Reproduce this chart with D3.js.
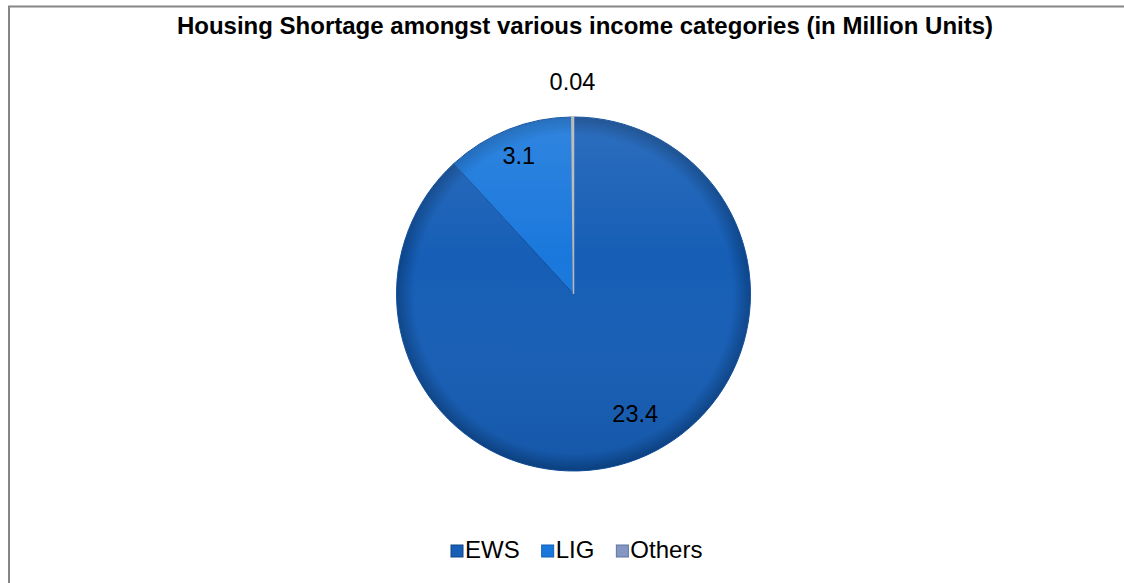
<!DOCTYPE html>
<html>
<head>
<meta charset="utf-8">
<script src="https://cdn.jsdelivr.net/npm/d3@7"></script>
<style>
	body { margin: 0; background: #fff; }
	text { font-family: Arial, "Liberation Sans", sans-serif; fill: #000; }
</style>
</head>
<body>
<script>
const categories = ['EWS', 'LIG', 'Others'];
const values = [23.4, 3.1, 0.04];
const labels = ['23.4', '3.1', '0.04'];
const colors = ['#165eb6', '#1a78dc', '#8397c2'];
const edgeColors = ['#0c4488', '#1160b4', '#5f74a0'];
const labelRadius = [0.76, 0.84, 1.2];
const labelTurn = [-0.105, 0, 0]; // radians, nudges the label round the slice

const width = 1124;
const height = 583;
const cx = 573.5, cy = 294, radius = 177;

const svg = d3.select('body').append('svg')
	.attr('width', width)
	.attr('height', height);

// chart frame
svg.append('rect')
	.attr('x', 9)
	.attr('y', 6.5)
	.attr('width', 1130)
	.attr('height', 600)
	.attr('fill', 'none')
	.attr('stroke', '#868686')
	.attr('stroke-width', 2);

svg.append('text')
	.attr('x', 585)
	.attr('y', 34)
	.attr('text-anchor', 'middle')
	.style('font-size', '24px')
	.style('font-weight', 'bold')
	.text('Housing Shortage amongst various income categories (in Million Units)');

const defs = svg.append('defs');
categories.forEach(function(c, i) {
	const g = defs.append('radialGradient')
		.attr('id', 'grad' + i)
		.attr('gradientUnits', 'userSpaceOnUse')
		.attr('cx', 0).attr('cy', 0).attr('r', radius);
	g.append('stop').attr('offset', '0%').attr('stop-color', colors[i]);
	g.append('stop').attr('offset', '90%').attr('stop-color', colors[i]);
	g.append('stop').attr('offset', '100%').attr('stop-color', edgeColors[i]);
});
// soft top light for the bevel look
const shine = defs.append('linearGradient')
	.attr('id', 'shine')
	.attr('x1', 0).attr('y1', 0).attr('x2', 0).attr('y2', 1);
shine.append('stop').attr('offset', '0%').attr('stop-color', '#ffffff').attr('stop-opacity', 0.1);
shine.append('stop').attr('offset', '40%').attr('stop-color', '#ffffff').attr('stop-opacity', 0);
shine.append('stop').attr('offset', '100%').attr('stop-color', '#000000').attr('stop-opacity', 0.08);

const pie = d3.pie().sort(null).value(function(d) { return d; });
const arcs = pie(values);
const arc = d3.arc().innerRadius(0).outerRadius(radius);

const g = svg.append('g')
	.attr('transform', 'translate(' + cx + ',' + cy + ')');

g.selectAll('path.slice')
	.data(arcs)
	.enter().append('path')
	.attr('class', 'slice')
	.attr('d', arc)
	.attr('fill', function(d, i) { return 'url(#grad' + i + ')'; })
	.attr('stroke', function(d, i) { return i === 2 ? '#b8b8b8' : '#104f9e'; })
	.attr('stroke-width', function(d, i) { return i === 2 ? 1.5 : 1; });

g.append('circle')
	.attr('r', radius)
	.attr('fill', 'url(#shine)')
	.attr('pointer-events', 'none');

// slice labels
g.selectAll('text.lbl')
	.data(arcs)
	.enter().append('text')
	.attr('class', 'lbl')
	.attr('transform', function(d, i) {
		const r = radius * labelRadius[i];
		const a = (d.startAngle + d.endAngle) / 2 + labelTurn[i];
		return 'translate(' + (Math.sin(a) * r) + ',' + (-Math.cos(a) * r) + ')';
	})
	.attr('dy', '0.35em')
	.attr('text-anchor', 'middle')
	.style('font-size', '23.5px')
	.text(function(d, i) { return labels[i]; });

// legend
const legend = svg.append('g');
let lx = 451;
categories.forEach(function(c, i) {
	legend.append('rect')
		.attr('x', lx)
		.attr('y', 545)
		.attr('width', 12)
		.attr('height', 12)
		.attr('fill', colors[i])
		.attr('stroke', edgeColors[i])
		.attr('stroke-width', 1);
	const t = legend.append('text')
		.attr('x', lx + 14)
		.attr('y', 558)
		.style('font-size', '24px')
		.text(c);
	lx += 14 + t.node().getComputedTextLength() + 22;
});
</script>
</body>
</html>
